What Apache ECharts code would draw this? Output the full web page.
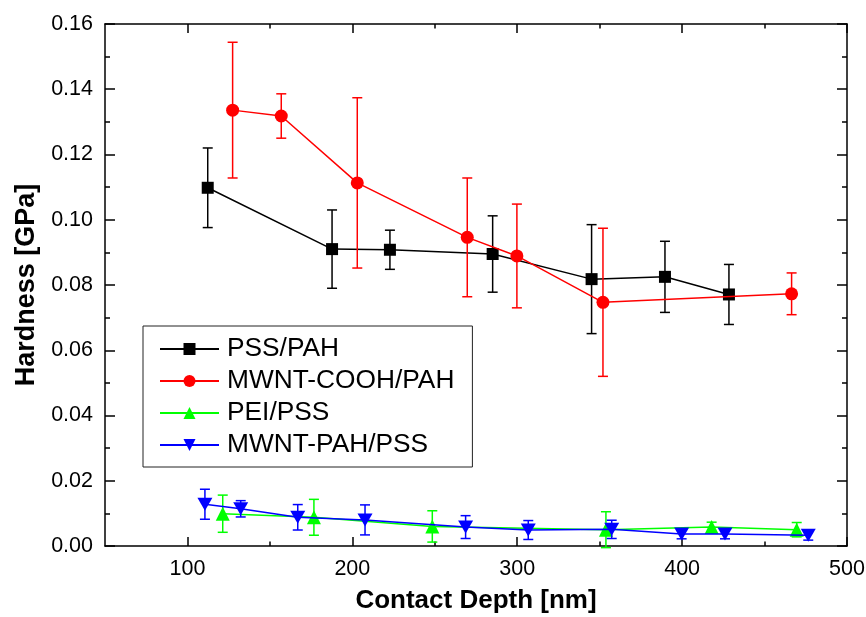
<!DOCTYPE html>
<html>
<head>
<meta charset="utf-8">
<script src="https://cdn.jsdelivr.net/npm/echarts@6/dist/echarts.min.js"></script>
<style>
html,body{margin:0;padding:0;background:#fff;}
#chart{width:866px;height:617px;}
</style>
</head>
<body>
<div id="chart"></div>
<script>
// ---- data ----
const seriesNames = ['PSS/PAH', 'MWNT-COOH/PAH', 'PEI/PSS', 'MWNT-PAH/PSS'];

const pssX   = [112.3, 187.7, 222.8, 285.1, 345.1, 389.6, 428.4];
const pssY   = [0.1098, 0.0910, 0.0908, 0.0895, 0.0818, 0.0825, 0.0771];
const pssErr = [0.0122, 0.0120, 0.0060, 0.0117, 0.0167, 0.0109, 0.0092];

const coohX   = [127.4, 156.9, 203.0, 269.7, 299.8, 352.0, 466.4];
const coohY   = [0.1336, 0.1318, 0.1113, 0.0946, 0.0889, 0.0747, 0.0773];
const coohErr = [0.0208, 0.0068, 0.0261, 0.0182, 0.0159, 0.0227, 0.0064];

const peiX   = [121.4, 176.7, 248.5, 353.8, 417.9, 469.5];
const peiY   = [0.0099, 0.0088, 0.0060, 0.0050, 0.0058, 0.0050];
const peiErr = [0.0057, 0.0055, 0.0048, 0.0055, 0.0015, 0.0022];

const mpX   = [110.6, 132.3, 166.9, 207.7, 268.7, 306.7, 357.3, 399.7, 426.0, 476.5];
const mpY   = [0.0128, 0.0114, 0.0088, 0.0080, 0.0058, 0.0049, 0.0051, 0.0037, 0.0037, 0.0033];
const mpErr = [0.0046, 0.0025, 0.0039, 0.0046, 0.0035, 0.0029, 0.0028, 0.0015, 0.0015, 0.0015];

const xMajorTicks = [100, 200, 300, 400, 500];
const xMinorTicks = [150, 250, 350, 450];

// ---- build ----
const FONT = 'Liberation Sans, Arial, sans-serif';
const colors = ['#000000', '#ff0000', '#00ff00', '#0000ff'];
const xs = [pssX, coohX, peiX, mpX];
const ys = [pssY, coohY, peiY, mpY];
const es = [pssErr, coohErr, peiErr, mpErr];
const symbols = ['rect', 'circle', 'triangle', 'path://M0,0 L10,0 L5,9 Z'];
const symbolSizes = [12, 13, 14, [15, 13]];

function pts(i) { return xs[i].map((x, k) => [x, ys[i][k]]); }
function errPts(i) { return xs[i].map((x, k) => [x, ys[i][k], es[i][k]]); }

function errRender(color) {
  return function (params, api) {
    const x = api.value(0), y = api.value(1), e = api.value(2);
    const t = api.coord([x, y + e]);
    const b = api.coord([x, y - e]);
    const hw = 5;
    const st = { stroke: color, lineWidth: 1.5 };
    return {
      type: 'group',
      children: [
        { type: 'line', shape: { x1: t[0], y1: t[1], x2: b[0], y2: b[1] }, style: st },
        { type: 'line', shape: { x1: t[0] - hw, y1: t[1], x2: t[0] + hw, y2: t[1] }, style: st },
        { type: 'line', shape: { x1: b[0] - hw, y1: b[1], x2: b[0] + hw, y2: b[1] }, style: st }
      ]
    };
  };
}

const series = [];
for (let i = 0; i < 4; i++) {
  series.push({
    type: 'custom',
    name: seriesNames[i] + ' err',
    xAxisIndex: 0, yAxisIndex: 0,
    renderItem: errRender(colors[i]),
    data: errPts(i),
    z: 2 + i * 2,
    silent: true
  });
}
for (let i = 0; i < 4; i++) {
  series.push({
    type: 'line',
    name: seriesNames[i],
    xAxisIndex: 0, yAxisIndex: 0,
    data: pts(i),
    symbol: symbols[i],
    symbolSize: symbolSizes[i],
    showAllSymbol: true,
    lineStyle: { color: colors[i], width: 1.5 },
    itemStyle: { color: colors[i] },
    z: 3 + i * 2,
    animation: false
  });
}

const axisLineStyle = { lineStyle: { color: '#000', width: 1.5 } };

const option = {
  animation: false,
  backgroundColor: '#fff',
  grid: { left: 105, right: 19, top: 24, bottom: 71, containLabel: false, outerBoundsMode: 'none' },
  legend: {
    data: seriesNames,
    orient: 'vertical',
    left: 143, top: 326,
    padding: [10, 18, 9, 16],
    itemGap: 6,
    itemWidth: 59,
    itemHeight: 15,
    borderColor: '#222',
    borderWidth: 1,
    backgroundColor: '#fff',
    textStyle: { fontFamily: FONT, fontSize: 26.3, color: '#000', padding: [0, 0, 0, 3] }
  },
  xAxis: [
    {
      type: 'value', position: 'bottom', min: 50, max: 500, interval: 50,
      axisLine: axisLineStyle,
      axisTick: { inside: true, length: 9, customValues: xMajorTicks, lineStyle: { color: '#000', width: 1.5 } },
      axisLabel: { customValues: xMajorTicks, fontFamily: FONT, fontSize: 21.5, color: '#000', margin: 12 },
      splitLine: { show: false },
      name: 'Contact Depth [nm]', nameLocation: 'middle', nameGap: 42,
      nameTextStyle: { fontFamily: FONT, fontSize: 26, fontWeight: 'bold', color: '#000' }
    },
    {
      type: 'value', position: 'bottom', min: 50, max: 500, interval: 50,
      axisLine: { show: false },
      axisTick: { inside: true, length: 4.5, customValues: xMinorTicks, lineStyle: { color: '#000', width: 1.5 } },
      axisLabel: { show: false }, splitLine: { show: false }
    },
    {
      type: 'value', position: 'top', min: 50, max: 500, interval: 50,
      axisLine: axisLineStyle,
      axisTick: { inside: true, length: 9, customValues: xMajorTicks, lineStyle: { color: '#000', width: 1.5 } },
      axisLabel: { show: false }, splitLine: { show: false }
    },
    {
      type: 'value', position: 'top', min: 50, max: 500, interval: 50,
      axisLine: { show: false },
      axisTick: { inside: true, length: 4.5, customValues: xMinorTicks, lineStyle: { color: '#000', width: 1.5 } },
      axisLabel: { show: false }, splitLine: { show: false }
    }
  ],
  yAxis: [
    {
      type: 'value', position: 'left', min: 0, max: 0.16, interval: 0.02,
      axisLine: axisLineStyle,
      axisTick: { inside: true, length: 10, lineStyle: { color: '#000', width: 1.5 } },
      minorTick: { show: true, splitNumber: 2, length: 5, lineStyle: { color: '#000', width: 1.5 } },
      axisLabel: { fontFamily: FONT, fontSize: 21.5, color: '#000', margin: 12, formatter: v => v.toFixed(2) },
      splitLine: { show: false },
      name: 'Hardness [GPa]', nameLocation: 'middle', nameGap: 64, nameRotate: 90,
      nameTextStyle: { fontFamily: FONT, fontSize: 27, fontWeight: 'bold', color: '#000' }
    },
    {
      type: 'value', position: 'right', min: 0, max: 0.16, interval: 0.02,
      axisLine: axisLineStyle,
      axisTick: { inside: true, length: 10, lineStyle: { color: '#000', width: 1.5 } },
      minorTick: { show: true, splitNumber: 2, length: 5, lineStyle: { color: '#000', width: 1.5 } },
      axisLabel: { show: false }, splitLine: { show: false }
    }
  ],
  series: series
};

const chart = echarts.init(document.getElementById('chart'), null, { renderer: 'canvas' });
chart.setOption(option);
</script>
</body>
</html>
